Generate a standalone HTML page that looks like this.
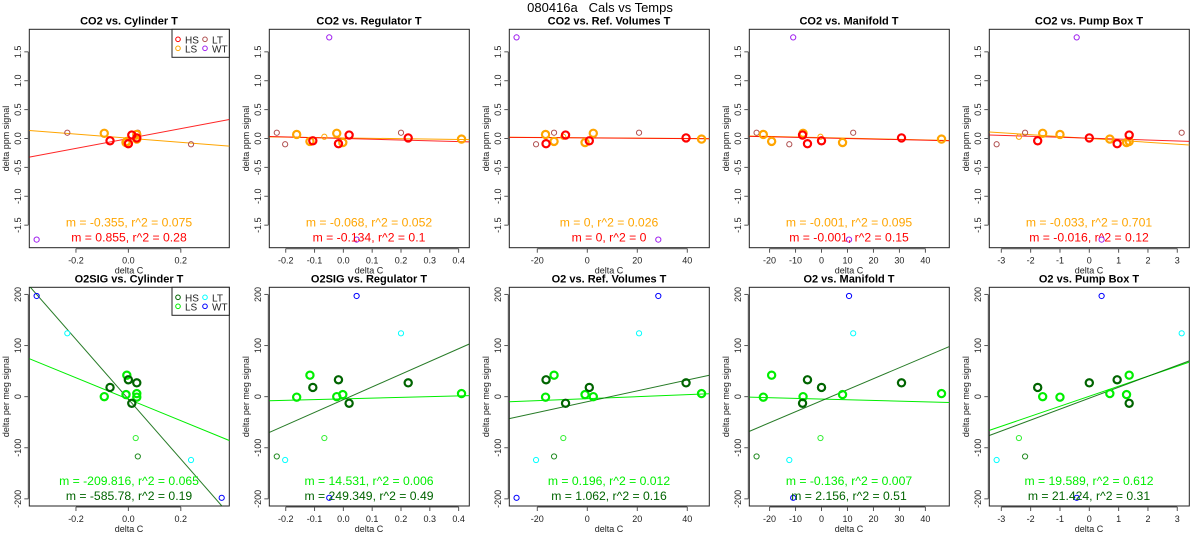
<!DOCTYPE html>
<html><head><meta charset="utf-8"><style>
body{margin:0;background:#fff;}
svg{display:block;font-family:"Liberation Sans",sans-serif;}
</style></head><body>
<svg id="chart" width="1200" height="550" viewBox="0 0 1200 550">
<text x="600" y="12" text-anchor="middle" font-size="13" style="white-space:pre" xml:space="preserve">080416a   Cals vs Temps</text>
</svg>
<script>
// ---- data ----
const colTitlesTop = ["CO2 vs. Cylinder T","CO2 vs. Regulator T","CO2 vs. Ref. Volumes T","CO2 vs. Manifold T","CO2 vs. Pump Box T"];
const colTitlesBot = ["O2SIG vs. Cylinder T","O2SIG vs. Regulator T","O2 vs. Ref. Volumes T","O2 vs. Manifold T","O2 vs. Pump Box T"];
const xRanges = [[-0.378,0.385],[-0.257,0.437],[-31.2,48.8],[-27.8,49.2],[-3.41,3.41]];
const xTicks = [[-0.2,0,0.2],[-0.2,-0.1,0,0.1,0.2,0.3,0.4],[-20,0,20,40],[-20,-10,0,10,20,30,40],[-3,-2,-1,0,1,2,3]];
const xTickLabels = [["-0.2","0.0","0.2"],["-0.2","-0.1","0.0","0.1","0.2","0.3","0.4"],["-20","0","20","40"],["-20","-10","0","10","20","30","40"],["-3","-2","-1","0","1","2","3"]];
const yRangeTop = [-1.89,1.89];
const yRangeBot = [-214,214];
const yTicksTop = [-1.5,-1,-0.5,0,0.5,1,1.5];
const yTickLabelsTop = ["-1.5","-1.0","-0.5","0.0","0.5","1.0","1.5"];
const yTicksBot = [-200,-100,0,100,200];
const yTickLabelsBot = ["-200","-100","0","100","200"];
// HS samples (4)
const hsCO2 = [-0.04,0.01,-0.09,0.06];
const hsO2 = [18,27,33,-13];
const hsX = [[-0.07,0.032,0,0.013],[-0.106,0.225,-0.017,0.02],[0.8,39.5,-16.5,-8.7],[0,30.8,-5.4,-7.3],[-1.76,0,0.95,1.36]];
// LS samples (5)
const lsCO2 = [0.09,0.07,-0.01,-0.07,-0.05];
const lsO2 = [0,-1,6,4,42];
const lsX = [[-0.092,0.032,0.032,-0.009,-0.006],[-0.023,-0.162,0.41,-0.002,-0.116],[2.4,-16.7,45.7,-0.9,-13.3],[-7.1,-22.4,46.2,8.1,-19.2],[-1.59,-1.0,0.7,1.27,1.36]];
// thin HS / thin LS (1 each)
const hsThinCO2 = [0.1], hsThinO2 = [-117];
const hsThinX = [[0.036],[-0.231],[-13.3],[-25],[-2.19]];
const lsThinCO2 = [0.03], lsThinO2 = [-81];
const lsThinX = [[0.028],[-0.066],[-9.6],[-0.4],[-2.4]];
// LT (2)
const ltCO2 = [-0.1,0.1], ltO2 = [-124,124];
const ltX = [[0.239,-0.233],[-0.202,0.2],[-20.5,20.7],[-12.4,12.2],[-3.16,3.15]];
// WT (2)
const wtCO2 = [-1.75,1.75], wtO2 = [197,-198];
const wtX = [[-0.35,0.356],[0.046,-0.049],[28.4,-28.3],[10.6,-10.9],[0.42,-0.43]];
// fit lines
const hsSlopeTop = [0.855,-0.134,-0.0003,-0.001,-0.016];
const hsIntTop = [0.0,0.0,0.01,0.01,0.005];
const lsSlopeTop = [-0.355,-0.068,-0.0003,-0.001,-0.033];
const lsIntTop = [0.005,0.01,0.012,0.015,0.0];
const hsSlopeBot = [-585.78,249.349,1.062,2.156,21.424];
const hsIntBot = [-5,-5.9,-9.9,-8,-3];
const lsSlopeBot = [-209.816,14.531,0.196,-0.136,19.589];
const lsIntBot = [-5,-4.3,-3.9,-4.8,0.8];
const lsLabelTop = ["m = -0.355, r^2 = 0.075","m = -0.068, r^2 = 0.052","m = 0, r^2 = 0.026","m = -0.001, r^2 = 0.095","m = -0.033, r^2 = 0.701"];
const hsLabelTop = ["m = 0.855, r^2 = 0.28","m = -0.134, r^2 = 0.1","m = 0, r^2 = 0","m = -0.001, r^2 = 0.15","m = -0.016, r^2 = 0.12"];
const lsLabelBot = ["m = -209.816, r^2 = 0.065","m = 14.531, r^2 = 0.006","m = 0.196, r^2 = 0.012","m = -0.136, r^2 = 0.007","m = 19.589, r^2 = 0.612"];
const hsLabelBot = ["m = -585.78, r^2 = 0.19","m = 249.349, r^2 = 0.49","m = 1.062, r^2 = 0.16","m = 2.156, r^2 = 0.51","m = 21.424, r^2 = 0.31"];

const NS = "http://www.w3.org/2000/svg";
const svg = document.getElementById("chart");
function mk(tag, attrs, parent){const e=document.createElementNS(NS,tag);for(const k in attrs)e.setAttribute(k,attrs[k]);(parent||svg).appendChild(e);return e;}

const colors = {
  top:{hs:"#ff0000",ls:"#ffa500",hsThin:"#b22222",lsThin:"#ffa500",lt:"#b05050",wt:"#a020f0"},
  bot:{hs:"#006400",ls:"#00ee00",hsThin:"#228b22",lsThin:"#33ee33",lt:"#00ffff",wt:"#0000ff"}
};

function panel(row, c){
  const ox = c*240, top = row===0?29.3:287.3, bot = row===0?247.7:506;
  const L = ox+29.3, R = ox+229.3;
  const xr = xRanges[c], yr = row===0?yRangeTop:yRangeBot;
  const sx = v => L + (v-xr[0])/(xr[1]-xr[0])*(R-L);
  const sy = v => bot - (v-yr[0])/(yr[1]-yr[0])*(bot-top);
  const g = mk("g",{});
  
  
  const col = row===0?colors.top:colors.bot;
  const cid = "clip"+row+"_"+c;
  const cp = mk("clipPath",{id:cid},g); mk("rect",{x:L,y:top,width:R-L,height:bot-top},cp);
  const t = mk("text",{x:ox+129,y:top-5,"text-anchor":"middle","font-size":"11","font-weight":"bold"},g);
  t.textContent = row===0?colTitlesTop[c]:colTitlesBot[c];
  
  
  const xa = mk("g",{},g);
  
  
  const tk = xTicks[c], tl = xTickLabels[c];
  mk("line",{x1:sx(tk[0]),x2:sx(tk[tk.length-1]),y1:bot+1,y2:bot+1,stroke:"#555","stroke-width":1},xa);
  tk.forEach((v,i)=>{
    mk("line",{x1:sx(v),x2:sx(v),y1:bot+1,y2:bot+5,stroke:"#555","stroke-width":1},xa);
    const lt = mk("text",{x:sx(v),y:bot+16,"text-anchor":"middle","font-size":"9",fill:"#222"},xa);
    lt.textContent = tl[i];
  });
  const xl = mk("text",{x:ox+129,y:bot+26,"text-anchor":"middle","font-size":"9",fill:"#222"},g);
  xl.textContent = "delta C";
  
  
  const ya = mk("g",{},g);
  
  
  const yt = row===0?yTicksTop:yTicksBot, ytl = row===0?yTickLabelsTop:yTickLabelsBot;
  mk("line",{x1:L-1,x2:L-1,y1:sy(yt[0]),y2:sy(yt[yt.length-1]),stroke:"#555"},ya);
  yt.forEach((v,i)=>{
    mk("line",{x1:L-5,x2:L-1,y1:sy(v),y2:sy(v),stroke:"#555"},ya);
    const lt = mk("text",{x:0,y:0,"text-anchor":"middle","font-size":"9",fill:"#222",transform:`translate(${ox+21},${sy(v)}) rotate(-90)`},ya);
    lt.textContent = ytl[i];
  });
  const yl = mk("text",{"text-anchor":"middle","font-size":"9",fill:"#222",transform:`translate(${ox+9},${(top+bot)/2}) rotate(-90)`},g);
  yl.textContent = row===0?"delta ppm signal":"delta per meg signal";
  
  
  const bx = mk("rect",{x:L,y:top,width:R-L,height:bot-top,fill:"none",stroke:"#222","stroke-width":1},g);
  
  
  const lg = mk("g",{"clip-path":`url(#${cid})`},g);
  const hsM = row===0?hsSlopeTop[c]:hsSlopeBot[c], hsB = row===0?hsIntTop[c]:hsIntBot[c];
  const lsM = row===0?lsSlopeTop[c]:lsSlopeBot[c], lsB = row===0?lsIntTop[c]:lsIntBot[c];
  const l1 = mk("line",{x1:sx(xr[0]),y1:sy(lsB+lsM*xr[0]),x2:sx(xr[1]),y2:sy(lsB+lsM*xr[1]),stroke:col.ls,"stroke-width":1},lg);
  
  
  const l2 = mk("line",{x1:sx(xr[0]),y1:sy(hsB+hsM*xr[0]),x2:sx(xr[1]),y2:sy(hsB+hsM*xr[1]),stroke:col.hs,"stroke-width":1,"stroke-opacity":0.85},lg);
  
  
  function pts(xs, ys, color, r, w, name){
    xs.forEach((xv,i)=>{
      const p = mk("circle",{cx:sx(xv),cy:sy(ys[i]),r:r,fill:"none",stroke:color,"stroke-width":w},lg);
      
      
    });
  }
  pts(ltX[c], row===0?ltCO2:ltO2, col.lt, 2.6, 1, 'point-lt');
  pts(hsThinX[c], row===0?hsThinCO2:hsThinO2, row===0?col.lt:col.hsThin, 2.6, 1, 'point-hs-thin');
  pts(lsThinX[c], row===0?lsThinCO2:lsThinO2, col.lsThin, 2.6, 1, 'point-ls-thin');
  pts(wtX[c], row===0?wtCO2:wtO2, col.wt, 2.6, 1, 'point-wt');
  pts(lsX[c], row===0?lsCO2:lsO2, col.ls, 3.6, 2.2, 'point-ls');
  pts(hsX[c], row===0?hsCO2:hsO2, col.hs, 3.6, 2.2, 'point-hs');
  const a1 = mk("text",{x:ox+129,y:bot-21,"text-anchor":"middle","font-size":"12.2",fill:col.ls},g);
  a1.textContent = row===0?lsLabelTop[c]:lsLabelBot[c];
  
  
  const a2 = mk("text",{x:ox+129,y:bot-6,"text-anchor":"middle","font-size":"12.2",fill:col.hs},g);
  a2.textContent = row===0?hsLabelTop[c]:hsLabelBot[c];
  
  
  if(c===0){
    const lg2 = mk("g",{},g);
    
    
    mk("rect",{x:172,y:top,width:R-172,height:28,fill:"#fff",stroke:"#222"},lg2);
    const ents = [["HS",col.hs,178,top+10],["LT",col.lt,205,top+10],["LS",col.ls,178,top+19],["WT",col.wt,205,top+19]];
    ents.forEach(e=>{
      const eg = mk("g",{},lg2);
      
      
      mk("circle",{cx:e[2],cy:e[3],r:2.3,fill:"none",stroke:e[1],"stroke-width":1},eg);
      const tt = mk("text",{x:e[2]+7,y:e[3]+4,"font-size":"10",fill:"#222"},eg);
      tt.textContent = e[0];
    });
  }
}
for(let r=0;r<2;r++) for(let c=0;c<5;c++) panel(r,c);
</script>
</body></html>
